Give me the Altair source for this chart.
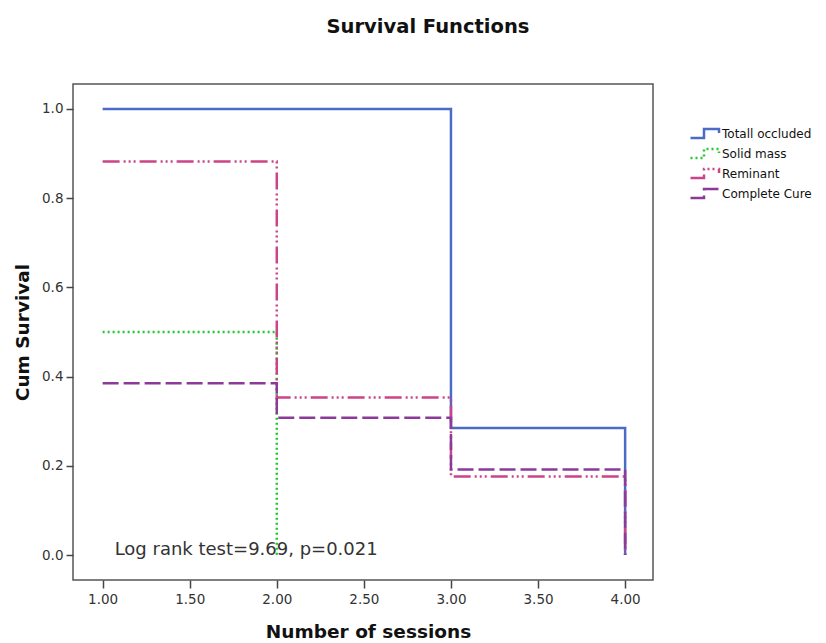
import altair as alt
import pandas as pd

series_names = ["Totall occluded", "Solid mass", "Reminant", "Complete Cure"]
colors = ["#4a6cc6", "#22c832", "#cc4488", "#8c3a98"]
dashes = [[1, 0], [2, 3], [17, 4, 2, 3, 2, 3, 2, 4], [16, 5]]

# step points (time, cumulative survival)
totall_x = [1, 3, 4]
totall_y = [1.0, 0.285, 0.0]
solid_x = [1, 2]
solid_y = [0.5, 0.0]
reminant_x = [1, 2, 3, 4]
reminant_y = [0.882, 0.353, 0.176, 0.0]
cure_x = [1, 2, 3, 4]
cure_y = [0.385, 0.308, 0.192, 0.0]

x_ticks = [1.0, 1.5, 2.0, 2.5, 3.0, 3.5, 4.0]
y_ticks = [0.0, 0.2, 0.4, 0.6, 0.8, 1.0]
annotation = "Log rank test=9.69, p=0.021"

rows = []
for i, (name, xs, ys) in enumerate(zip(series_names,
                                       [totall_x, solid_x, reminant_x, cure_x],
                                       [totall_y, solid_y, reminant_y, cure_y])):
    for x, y in zip(xs, ys):
        rows.append({"series": name, "order": i, "x": x, "y": y})
df = pd.DataFrame(rows)

FONT = "DejaVu Sans"

xscale = alt.Scale(domain=[0.83, 4.16], nice=False, zero=False)
yscale = alt.Scale(domain=[-0.056, 1.056], nice=False, zero=False)

legend_path = "M-3,0.9H-0.3V-0.9H2.7V-0.1"

legend_kw = dict(title=None, orient="none", legendX=626, legendY=43,
                 symbolType=legend_path, symbolSize=100, symbolStrokeWidth=2.5,
                 labelFont=FONT, labelFontSize=12, labelColor="#111",
                 labelOffset=10, rowPadding=1, padding=0)

lines = alt.Chart(df).mark_line(interpolate="step-after", strokeWidth=2.5).encode(
    x=alt.X("x:Q", scale=xscale,
            axis=alt.Axis(values=x_ticks, format=".2f", title="Number of sessions",
                          grid=False, domain=False, tickSize=8, tickColor="#444",
                          tickWidth=1.5, labelFont=FONT, labelFontSize=13.5,
                          labelColor="#333", labelPadding=4,
                          titleFont=FONT, titleFontSize=18.5, titleFontWeight="bold",
                          titleColor="#111", titleX=295, titleY=51,
                          titleBaseline="middle", titleAlign="center")),
    y=alt.Y("y:Q", scale=yscale,
            axis=alt.Axis(values=y_ticks, format=".1f", title="Cum Survival",
                          grid=False, domain=False, tickSize=7, tickColor="#444",
                          tickWidth=1.5, labelFont=FONT, labelFontSize=13.5,
                          labelColor="#333", labelPadding=3,
                          titleFont=FONT, titleFontSize=18.5, titleFontWeight="bold",
                          titleColor="#111", titleX=-51, titleY=248,
                          titleBaseline="middle", titleAlign="center", titleAngle=270)),
    color=alt.Color("series:N", scale=alt.Scale(domain=series_names, range=colors),
                    legend=alt.Legend(symbolFillColor="transparent", **legend_kw)),
    strokeDash=alt.StrokeDash("series:N", scale=alt.Scale(domain=series_names, range=dashes),
                              legend=alt.Legend(**legend_kw)),
    order=alt.Order("order:Q"),
)

ann_df = pd.DataFrame({"x": [1.069], "y": [0.0], "label": [annotation]})
text = alt.Chart(ann_df).mark_text(align="left", baseline="alphabetic", font=FONT,
                                   fontSize=18, color="#333").encode(
    x=alt.X("x:Q", scale=xscale), y=alt.Y("y:Q", scale=yscale), text="label:N")

chart = alt.layer(lines, text).properties(
    width=580, height=496,
    title=alt.TitleParams("Survival Functions", font=FONT, fontSize=19.5, fontWeight="bold",
                          color="#111", anchor="middle", frame="group", dx=65, offset=47),
    autosize=alt.AutoSizeParams(type="none"),
    padding={"left": 65, "top": 76, "right": 165, "bottom": 62},
).configure_view(stroke="#555", strokeWidth=1.5)

chart.save("out.html", embed_options={"renderer": "svg", "actions": False})
